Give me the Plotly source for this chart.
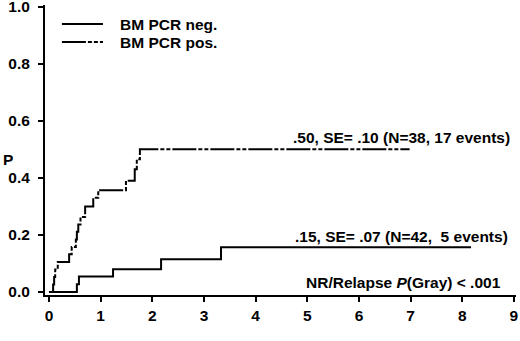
import plotly.graph_objects as go

# Data (cumulative incidence, step functions)
neg_t = [0.0, 0.54, 0.58, 1.24, 2.17, 3.33, 8.17]
neg_p = [0.0, 0.027, 0.054, 0.080, 0.115, 0.157, 0.157]

pos_t = [0.0, 0.08, 0.10, 0.12, 0.17, 0.39, 0.44, 0.52, 0.54, 0.567, 0.61,
         0.70, 0.857, 0.954, 1.49, 1.66, 1.70, 1.76, 6.98]
pos_p = [0.0, 0.026, 0.053, 0.079, 0.105, 0.132, 0.158, 0.184, 0.211, 0.237,
         0.263, 0.300, 0.330, 0.357, 0.390, 0.430, 0.465, 0.500, 0.500]

x_ticks = [0, 1, 2, 3, 4, 5, 6, 7, 8, 9]
y_ticks = [0.0, 0.2, 0.4, 0.6, 0.8, 1.0]
y_tick_labels = ["0.0", "0.2", "0.4", "0.6", "0.8", "1.0"]

labels = ["BM PCR neg.", "BM PCR pos."]
ann_pos = ".50, SE= .10 (N=38, 17 events)"
ann_neg = ".15, SE= .07 (N=42,  5 events)"
ann_test = "NR/Relapse <i>P</i>(Gray) < .001"

FONT = "Liberation Sans, Arial, sans-serif"
DASH = "24px,2px,4px,2px,4px,2px"
FS = 15.5
TFS = 15.5

fig = go.Figure()
fig.add_trace(go.Scatter(x=neg_t, y=neg_p, mode="lines", line_shape="hv",
                         line=dict(color="black", width=2), name=labels[0],
                         showlegend=False))
fig.add_trace(go.Scatter(x=pos_t, y=pos_p, mode="lines", line_shape="hv",
                         line=dict(color="black", width=2, dash=DASH),
                         name=labels[1], showlegend=False))

# legend drawn manually
leg_y = [0.939, 0.876]
for i, (lab, dash) in enumerate(zip(labels, ["solid", DASH])):
    fig.add_shape(type="line", xref="x", yref="y", x0=0.25, x1=1.045,
                  y0=leg_y[i], y1=leg_y[i],
                  line=dict(color="black", width=2, dash=dash))
    fig.add_annotation(x=1.335, y=leg_y[i], xref="x", yref="y", text=lab,
                       showarrow=False, xanchor="left", yanchor="middle",
                       font=dict(family=FONT, size=FS, color="black", weight="bold"))

for txt, x, y in [(ann_pos, 8.96, 0.54), (ann_neg, 8.92, 0.193), (ann_test, 8.79, 0.035)]:
    fig.add_annotation(x=x, y=y, xref="x", yref="y", text=txt, showarrow=False,
                       xanchor="right", yanchor="middle",
                       font=dict(family=FONT, size=FS, color="black", weight="bold"))

fig.add_annotation(x=8.46, y=-0.14, xref="x", yref="y", text="years", showarrow=False,
                   xanchor="center", yanchor="middle",
                   font=dict(family=FONT, size=FS, color="black", weight="bold"))
fig.add_annotation(x=-0.0786, y=0.463, xref="paper", yref="y", text="P", showarrow=False,
                   xanchor="center", yanchor="middle",
                   font=dict(family=FONT, size=FS, color="black", weight="bold"))

fig.update_xaxes(range=[-0.077, 9.04], tickvals=x_ticks, ticks="outside", ticklen=5,
                 tickwidth=2, tickcolor="black", showline=True, linewidth=2,
                 linecolor="black", showgrid=False, zeroline=False, automargin=False,
                 ticklabeloverflow="allow",
                 tickfont=dict(family=FONT, size=TFS, color="black", weight="bold"))
fig.update_yaxes(range=[-0.0105, 1.006], tickvals=y_ticks, ticktext=y_tick_labels,
                 ticks="outside", ticklen=5, tickwidth=2, tickcolor="black",
                 showline=True, linewidth=2, linecolor="black", showgrid=False,
                 zeroline=False, automargin=False, ticklabeloverflow="allow",
                 ticklabelstandoff=5,
                 tickfont=dict(family=FONT, size=TFS, color="black", weight="bold"))

fig.update_layout(width=520, height=341, margin=dict(l=45, r=4, t=5, b=46),
                  plot_bgcolor="white", paper_bgcolor="white", showlegend=False)

fig.write_html("out.html", config={"displayModeBar": False, "staticPlot": True},
               post_script="document.body.style.margin='0';document.body.style.overflow='hidden';")
